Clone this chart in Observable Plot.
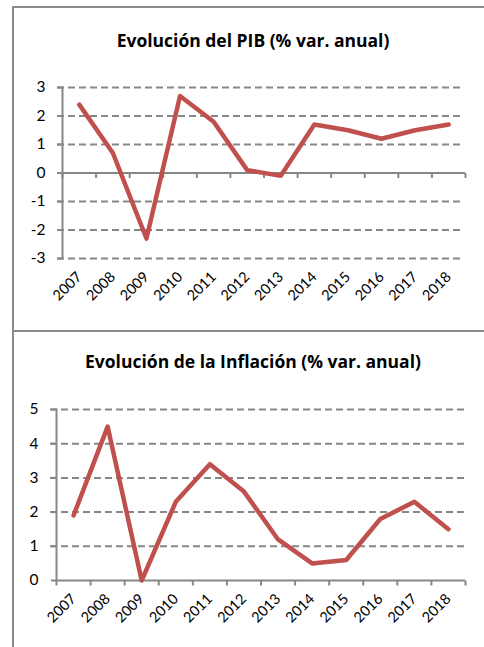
<!DOCTYPE html>
<html>
<head>
<meta charset="utf-8">
<script src="https://cdn.jsdelivr.net/npm/d3@7"></script>
<script src="https://cdn.jsdelivr.net/npm/@observablehq/plot@0.6"></script>
<style>
  html, body { margin: 0; padding: 0; background: #fff; }
  body { width: 484px; height: 647px; position: relative; overflow: hidden; font-family: Lato, "Open Sans", sans-serif; }
  .line { position: absolute; background: #8a8a8a; }
  .title { position: absolute; left: 0; width: 506px; text-align: center; font-family: "Open Sans", sans-serif; font-weight: bold; font-size: 17.5px; line-height: 24px; color: #000; white-space: nowrap; }
  .chart { position: absolute; left: 0; }
</style>
</head>
<body>
<div class="line" style="left:12px; top:6px; width:472px; height:2px;"></div>
<div class="line" style="left:12px; top:6px; width:2px; height:641px;"></div>
<div class="line" style="left:12px; top:330px; width:472px; height:2px;"></div>
<div class="title" style="top:28px;">Evolución del PIB (% var. anual)</div>
<div class="title" style="top:349px;">Evolución de la Inflación (% var. anual)</div>
<div id="c1" class="chart" style="top:0px;"></div>
<div id="c2" class="chart" style="top:331px;"></div>
<script>
const years = [2007, 2008, 2009, 2010, 2011, 2012, 2013, 2014, 2015, 2016, 2017, 2018];
const pib = [2.4, 0.7, -2.3, 2.7, 1.8, 0.1, -0.1, 1.7, 1.5, 1.2, 1.5, 1.7];
const inflacion = [1.9, 4.5, 0.0, 2.3, 3.4, 2.6, 1.2, 0.5, 0.6, 1.8, 2.3, 1.5];
const pibTicks = [-3, -2, -1, 0, 1, 2, 3];
const inflTicks = [0, 1, 2, 3, 4, 5];

const RED = "#C0504D";
const GRAY = "#878787";
const boundaries = [...years.map(y => y - 0.5), years[years.length - 1] + 0.5];
const tickDown = { draw(ctx) { ctx.moveTo(0, 0); ctx.lineTo(0, 5); } };

function makeChart(values, yTicks, opts) {
  const rows = years.map((y, i) => ({ year: y, value: values[i] }));
  return Plot.plot({
    width: 484,
    height: opts.height,
    marginLeft: opts.marginLeft,
    marginRight: opts.marginRight,
    marginTop: opts.marginTop,
    marginBottom: opts.marginBottom,
    style: { fontFamily: "Lato, 'Open Sans', sans-serif", color: "#000", background: "transparent", overflow: "visible" },
    x: { domain: [years[0] - 0.5, years[years.length - 1] + 0.5] },
    y: { domain: [yTicks[0], yTicks[yTicks.length - 1]] },
    marks: [
      Plot.ruleY(yTicks.filter(t => t !== 0), {
        stroke: GRAY, strokeWidth: 2, strokeDasharray: "7,4",
        insetLeft: -opts.gridLeft, insetRight: opts.gridRight
      }),
      Plot.ruleY([0], { stroke: GRAY, strokeWidth: 2 }),
      Plot.frame({ anchor: "left", stroke: GRAY, strokeWidth: 2 }),
      Plot.dot(boundaries, { x: d => d, y: () => 0, symbol: tickDown, stroke: GRAY, strokeWidth: 2, fill: "none" }),
      Plot.axisY({ ticks: yTicks, tickSize: 5, tickPadding: opts.yPad, stroke: GRAY, strokeWidth: 2, fontSize: 15.5, label: null, tickFormat: d => d < 0 ? "-" + Math.abs(d) : String(d) }),
      Plot.axisX({ ticks: years, tickSize: 0, tickPadding: opts.xPad, tickRotate: -45, fontSize: 14.5, label: null, tickFormat: d => String(d) }),
      Plot.line(rows, { x: "year", y: "value", stroke: RED, strokeWidth: 4.5, strokeLinejoin: "round", strokeLinecap: "round" })
    ]
  });
}

document.getElementById("c1").appendChild(makeChart(pib, pibTicks, {
  height: 330, marginLeft: 62, marginRight: 19, marginTop: 87, marginBottom: 72,
  gridLeft: 5, gridRight: 5, yPad: 12, xPad: 16
}));
document.getElementById("c2").appendChild(makeChart(inflacion, inflTicks, {
  height: 316, marginLeft: 56, marginRight: 19, marginTop: 78, marginBottom: 67,
  gridLeft: 6, gridRight: 0, yPad: 13, xPad: 16
}));
</script>
</body>
</html>
